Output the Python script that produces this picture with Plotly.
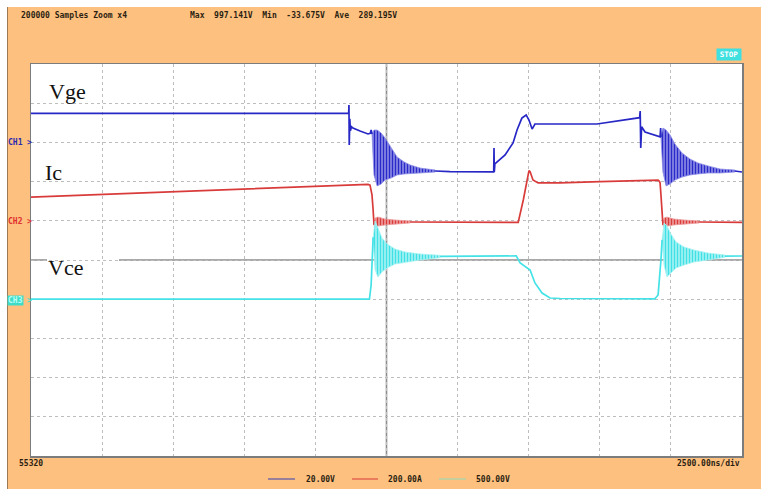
import plotly.graph_objects as go

# ---------------------------------------------------------------
# Scope capture: IGBT double-pulse switching waveforms
# time in microseconds (2500 ns/div, 10 div), Vge [V], Ic [A], Vce [V]
# ---------------------------------------------------------------

T_DIV = 2.5          # us per division
N_DIV = 10

# per-channel scale (units/div) and ground-marker offset (div above centre)
VGE_SCALE, VGE_GND = 20.0, 3
IC_SCALE, IC_GND = 200.0, 1
VCE_SCALE, VCE_GND = 500.0, -1

# ---- Vge (CH1) -------------------------------------------------
vge_seg1_t = [0.0, 11.17, 11.18, 11.19, 11.21, 11.23, 11.27, 11.32, 11.57, 11.85, 11.93, 11.96, 11.99]
vge_seg1_v = [14.8, 14.8, 19.1, -1.3, 12.0, 6.0, 8.0, 7.3, 5.8, 4.3, 4.6, 6.3, 4.3]
vge_ring1_t = [11.99, 12.06, 12.17, 12.31, 12.45, 12.66, 12.87, 13.12, 13.33, 13.68, 14.21]
vge_ring1_hi = [4.3, 6.3, 6.3, 4.8, 2.2, -2.9, -7.4, -10.0, -11.5, -13.1, -14.1]
vge_ring1_lo = [4.3, -16.6, -22.2, -21.2, -19.2, -18.2, -16.6, -16.1, -15.6, -15.6, -15.1]
vge_seg2_t = [14.21, 14.73, 16.27, 16.28, 16.29, 16.31, 16.35, 16.67, 16.95, 17.09, 17.26, 17.41,
              17.51, 17.62, 17.72, 19.90, 21.40, 21.42, 21.44, 21.47, 21.59, 22.12, 22.14, 22.15]
vge_seg2_v = [-14.6, -14.9, -15.0, -2.9, -15.1, -11.0, -10.5, -6.4, -0.3, 6.3, 12.4, 14.0,
              11.4, 6.8, 9.4, 9.4, 12.6, 16.0, -2.9, 8.0, 5.3, 2.8, 7.3, 2.8]
vge_ring2_t = [22.15, 22.22, 22.33, 22.47, 22.64, 22.89, 23.17, 23.45, 23.80, 24.23, 24.75]
vge_ring2_hi = [2.8, 7.3, 6.3, 3.8, -0.8, -5.4, -8.5, -10.5, -12.0, -13.6, -14.1]
vge_ring2_lo = [2.8, -15.1, -22.2, -21.2, -19.2, -17.7, -16.6, -16.1, -15.6, -15.6, -15.1]
vge_seg3_t = [24.75, 25.0]
vge_seg3_v = [-14.6, -15.1]

# ---- Ic (CH2) --------------------------------------------------
ic_seg1_t = [0.0, 5.94, 11.85, 11.92, 11.96, 11.99, 12.03, 12.06]
ic_seg1_v = [121, 155, 186, 182, 160, 132, 55, -21]
ic_ring1_t = [12.06, 12.10, 12.20, 12.45, 12.80, 13.33]
ic_ring1_hi = [-21, 14, 19, 9, 4, -1]
ic_ring1_lo = [-21, -37, -27, -21, -16, -11]
ic_seg2_t = [13.33, 16.13, 17.13, 17.31, 17.44, 17.51, 17.55, 17.65, 17.83, 18.60,
             20.01, 22.05, 22.10, 22.12, 22.15, 22.19, 22.22]
ic_seg2_v = [-6, -7, -8, 106, 208, 256, 250, 208, 193, 193,
             200, 207, 200, 193, 132, 45, -21]
ic_ring2_t = [22.22, 22.26, 22.36, 22.61, 22.96, 23.49]
ic_ring2_hi = [-21, 14, 19, 9, 4, -1]
ic_ring2_lo = [-21, -37, -27, -21, -16, -11]
ic_seg3_t = [23.49, 25.0]
ic_seg3_v = [-6, -8]

# ---- Vce (CH3) -------------------------------------------------
vce_seg1_t = [0.0, 11.90, 11.96, 11.99, 12.03]
vce_seg1_v = [0, 0, 181, 450, 790]
vce_ring1_t = [12.03, 12.10, 12.20, 12.34, 12.52, 12.80, 13.15, 13.68, 14.38]
vce_ring1_hi = [790, 997, 908, 781, 704, 640, 602, 577, 560]
vce_ring1_lo = [790, 372, 283, 347, 398, 449, 474, 500, 530]
vce_seg2_t = [14.38, 15.50, 17.06, 17.20, 17.44, 17.55, 17.72, 17.97, 18.25, 18.60,
              21.93, 22.05, 22.15, 22.19]
vce_seg2_v = [545, 550, 552, 462, 398, 372, 207, 79, 15, 9,
              3, 54, 500, 755]
vce_ring2_t = [22.19, 22.26, 22.36, 22.50, 22.68, 22.96, 23.31, 23.80, 24.40]
vce_ring2_hi = [755, 972, 934, 832, 730, 666, 628, 589, 564]
vce_ring2_lo = [755, 436, 283, 334, 398, 436, 474, 500, 535]
vce_seg3_t = [24.40, 25.0]
vce_seg3_v = [550, 551]

# ---- text ------------------------------------------------------
header_left = "200000 Samples Zoom x4"
header_stats = "Max  997.141V  Min  -33.675V  Ave  289.195V"
record_no = "55320"
timebase_txt = "2500.00ns/div"
legend_txt = ["20.00V", "200.00A", "500.00V"]
trace_names = ["Vge", "Ic", "Vce"]

# ---- colours ---------------------------------------------------
BG = "#FEC07F"
BLUE = "#2727c6"
RED = "#d93b3b"
CYAN = "#44e2e6"
# ringing bands: light background with dense vertical strokes
BLUE_BAND = ("#8a8ae6", "#2a2ac8")
RED_BAND = ("#ee9a9a", "#d93b3b")
CYAN_BAND = ("#a6f3f3", "#3fe0e6")
GRID = "#bdbdbd"
FRAME = "#7c7c7c"
CROSS = "#8c8c8c"
INK = "#2b1f12"
LEG_COLS = ["#9a7f98", "#ea7d5c", "#c6cf9c"]

# ---- page geometry (pixels) ------------------------------------
W, H = 761, 489
L, R, T, B = 31, 19, 64, 33
PW, PH = W - L - R, H - T - B


def px(x):
    return (x - L) / PW


def py(y):
    return (T + PH - y) / PH


def axis_range(scale, gnd):
    return [-(N_DIV / 2 + gnd) * scale, (N_DIV / 2 - gnd) * scale]


def joined(*segs):
    xs, ys = [], []
    for t, v in segs:
        if xs:
            xs.append(None)
            ys.append(None)
        xs += list(t)
        ys += list(v)
    return xs, ys


def band(t, hi, lo):
    return list(t) + list(t)[::-1], list(hi) + list(lo)[::-1]


fig = go.Figure()

channels = [
    ("y", BLUE, BLUE_BAND,
     [(vge_seg1_t, vge_seg1_v), (vge_seg2_t, vge_seg2_v), (vge_seg3_t, vge_seg3_v)],
     [(vge_ring1_t, vge_ring1_hi, vge_ring1_lo), (vge_ring2_t, vge_ring2_hi, vge_ring2_lo)]),
    ("y2", RED, RED_BAND,
     [(ic_seg1_t, ic_seg1_v), (ic_seg2_t, ic_seg2_v), (ic_seg3_t, ic_seg3_v)],
     [(ic_ring1_t, ic_ring1_hi, ic_ring1_lo), (ic_ring2_t, ic_ring2_hi, ic_ring2_lo)]),
    ("y3", CYAN, CYAN_BAND,
     [(vce_seg1_t, vce_seg1_v), (vce_seg2_t, vce_seg2_v), (vce_seg3_t, vce_seg3_v)],
     [(vce_ring1_t, vce_ring1_hi, vce_ring1_lo), (vce_ring2_t, vce_ring2_hi, vce_ring2_lo)]),
]

for yax, col, (light, dark), segs, rings in channels:
    for rt, rhi, rlo in rings:
        bx, by = band(rt, rhi, rlo)
        fig.add_trace(go.Scatter(
            x=bx, y=by, yaxis=yax, mode="lines", fill="toself", fillcolor=light,
            fillpattern=dict(shape="|", size=3, solidity=0.45, fgcolor=dark, bgcolor=light,
                             fillmode="replace"),
            line=dict(color=light, width=0.8),
            hoverinfo="skip", showlegend=False))
    lx, ly = joined(*segs)
    fig.add_trace(go.Scatter(x=lx, y=ly, yaxis=yax, mode="lines",
                             line=dict(color=col, width=1.7),
                             hoverinfo="skip", showlegend=False, connectgaps=False))

shapes = []
# outer page: white strip above/left, thin rule on the left edge
shapes.append(dict(type="rect", xref="paper", yref="paper", x0=px(0), x1=px(W), y0=py(7), y1=py(0),
                   fillcolor="white", line=dict(width=0), layer="above"))
shapes.append(dict(type="rect", xref="paper", yref="paper", x0=px(0), x1=px(7), y0=py(H), y1=py(0),
                   fillcolor="white", line=dict(width=0), layer="above"))
shapes.append(dict(type="line", xref="paper", yref="paper", x0=px(7.5), x1=px(7.5), y0=py(H), y1=py(7),
                   line=dict(color="#9c7a55", width=1), layer="above"))
# centre cross-hair
shapes.append(dict(type="line", xref="paper", yref="paper", x0=0.5, x1=0.5, y0=0, y1=1,
                   line=dict(color=CROSS, width=1.6), layer="between"))
shapes.append(dict(type="line", xref="paper", yref="paper", x0=0, x1=1, y0=0.5, y1=0.5,
                   line=dict(color=CROSS, width=1.6), layer="between"))
# white boxes behind the trace names
for (x0, x1, y0, y1) in [(48, 128, 78, 106), (43, 107, 156, 187), (47, 119, 248, 280)]:
    shapes.append(dict(type="rect", xref="paper", yref="paper", x0=px(x0), x1=px(x1),
                       y0=py(y1), y1=py(y0), fillcolor="white", line=dict(width=0), layer="between"))
# legend swatches
for (x0, x1), c in zip([(268, 295), (352, 378), (439, 466)], LEG_COLS):
    shapes.append(dict(type="line", xref="paper", yref="paper", x0=px(x0), x1=px(x1),
                       y0=py(479), y1=py(479), line=dict(color=c, width=2)))

MONO = "DejaVu Sans Mono"
SERIF = "Liberation Serif"


def note(text, x, y, size=8, color=INK, family=MONO, xanchor="left", weight="bold", **kw):
    return dict(text=text, xref="paper", yref="paper", x=px(x), y=py(y), xanchor=xanchor,
                yanchor=kw.pop("yanchor", "middle"), showarrow=False,
                font=dict(family=family, size=size, color=color, weight=weight), **kw)


ann = [
    note(header_left, 19, 15),
    note(header_stats, 188, 15),
    note(record_no, 17, 463),
    note(timebase_txt, 742, 463, xanchor="right"),
    note("STOP", 728.5, 55, size=7.5, color="white", xanchor="center", bgcolor="#3fe0e0",
         width=24, height=11, borderpad=0),
    note("CH1", 6, 142.5, size=8, color="#2a2ab0"),
    note("&gt;", 25, 142.5, size=8, color="#2a2ab0"),
    note("CH2", 6, 221, size=8, color="#e03030"),
    note("&gt;", 25, 221, size=8, color="#e03030"),
    note("CH3", 7, 300, size=8, color="#b8fff6", bgcolor="#3fdcc8", borderpad=0),
    note("&gt;", 25, 300, size=8, color="#3fdcc8"),
    note(legend_txt[0], 304, 479),
    note(legend_txt[1], 386, 479),
    note(legend_txt[2], 474, 479),
    note(trace_names[0], 47, 92, size=22, color="#111111", family=SERIF, weight="normal"),
    note(trace_names[1], 43, 172, size=22, color="#111111", family=SERIF, weight="normal"),
    note(trace_names[2], 46, 267, size=22, color="#111111", family=SERIF, weight="normal"),
]

axis_common = dict(showgrid=True, gridcolor=GRID, griddash="dot", gridwidth=1,
                   showticklabels=False, ticks="", zeroline=False, fixedrange=True,
                   showline=True, mirror=True, linecolor=FRAME, linewidth=1.5)

fig.update_layout(
    width=W, height=H,
    margin=dict(l=L, r=R, t=T, b=B, pad=0),
    paper_bgcolor=BG, plot_bgcolor="white",
    showlegend=False, hovermode=False,
    xaxis=dict(range=[0, N_DIV * T_DIV], dtick=T_DIV, tick0=0, **axis_common),
    yaxis=dict(range=axis_range(VGE_SCALE, VGE_GND), dtick=VGE_SCALE, tick0=0, **axis_common),
    yaxis2=dict(range=axis_range(IC_SCALE, IC_GND), overlaying="y", visible=False, fixedrange=True),
    yaxis3=dict(range=axis_range(VCE_SCALE, VCE_GND), overlaying="y", visible=False, fixedrange=True),
    shapes=shapes,
    annotations=ann,
)

fig.write_html("out.html", config={"displayModeBar": False, "staticPlot": True})
